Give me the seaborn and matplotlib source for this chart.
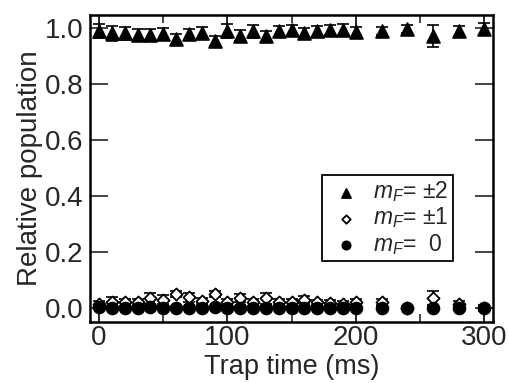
import numpy as np
import pandas as pd
import seaborn as sns
import matplotlib.pyplot as plt
from matplotlib.ticker import MultipleLocator

# trap times (ms)
trap_time = [0, 10, 20, 30, 40, 50, 60, 70, 80, 90, 100, 110, 120, 130, 140,
             150, 160, 170, 180, 190, 200, 220, 240, 260, 280, 300]

# relative populations
pop_m2 = [0.987, 0.979, 0.979, 0.974, 0.974, 0.976, 0.960, 0.976, 0.981, 0.952,
          0.987, 0.971, 0.986, 0.969, 0.986, 0.990, 0.981, 0.986, 0.990, 0.993,
          0.983, 0.987, 0.995, 0.969, 0.987, 0.995]
err_m2 = [0.025, 0.028, 0.022, 0.020, 0.020, 0.022, 0.018, 0.020, 0.022, 0.018,
          0.025, 0.020, 0.022, 0.020, 0.018, 0.020, 0.018, 0.020, 0.018, 0.020,
          0.020, 0.015, 0.015, 0.040, 0.018, 0.020]

pop_m1 = [0.015, 0.020, 0.020, 0.022, 0.035, 0.030, 0.050, 0.038, 0.025, 0.050,
          0.020, 0.035, 0.020, 0.035, 0.022, 0.020, 0.030, 0.020, 0.018, 0.015,
          0.022, 0.022, 0.000, 0.035, 0.015, 0.000]
err_m1 = [0.010, 0.020, 0.012, 0.012, 0.020, 0.015, 0.012, 0.015, 0.012, 0.012,
          0.012, 0.015, 0.012, 0.020, 0.012, 0.012, 0.012, 0.010, 0.010, 0.010,
          0.010, 0.012, 0.005, 0.025, 0.012, 0.005]

pop_m0 = [0.003, 0.002, 0.002, 0.002, 0.003, 0.002, 0.002, 0.002, 0.002, 0.003,
          0.002, 0.002, 0.002, 0.002, 0.002, 0.002, 0.002, 0.002, 0.002, 0.002,
          0.002, 0.002, 0.001, 0.002, 0.002, 0.001]
err_m0 = [0.008, 0.005, 0.005, 0.005, 0.005, 0.005, 0.005, 0.005, 0.005, 0.005,
          0.008, 0.005, 0.005, 0.005, 0.005, 0.005, 0.005, 0.005, 0.005, 0.005,
          0.008, 0.005, 0.005, 0.005, 0.005, 0.010]

labels = [r'$m_F$= $\pm$2', r'$m_F$= $\pm$1', r'$m_F$=  0']

sns.set_style('ticks')
plt.rcParams['font.family'] = ['Liberation Sans', 'DejaVu Sans']
plt.rcParams['mathtext.fontset'] = 'custom'
plt.rcParams['mathtext.it'] = 'Liberation Sans:italic'
plt.rcParams['mathtext.rm'] = 'Liberation Sans'

fig = plt.figure(figsize=(5.09, 3.83), dpi=100)
ax = fig.add_axes([0.177, 0.159, 0.792, 0.802])

series = [
    (labels[1], pop_m1, err_m1, 'D', 'white', 38, 2),
    (labels[0], pop_m2, err_m2, '^', 'black', 85, 3),
    (labels[2], pop_m0, err_m0, 'o', 'black', 72, 4),
]

for lab, pop, err, mk, fc, size, z in series:
    d = pd.DataFrame({'time': trap_time, 'pop': pop, 'err': err})
    ax.errorbar(d['time'], d['pop'], yerr=d['err'], fmt='none', ecolor='black',
                elinewidth=1.2, capsize=4, capthick=1.2, zorder=z)
    sns.scatterplot(data=d, x='time', y='pop', marker=mk, color=fc, s=size,
                    edgecolor='black', linewidth=1.3, ax=ax, zorder=z + 0.5,
                    label=lab)

ax.set_xlim(-7, 307)
ax.set_ylim(-0.05, 1.045)
ax.xaxis.set_major_locator(MultipleLocator(100))
ax.xaxis.set_minor_locator(MultipleLocator(50))
ax.yaxis.set_major_locator(MultipleLocator(0.2))
ax.yaxis.set_major_formatter(plt.FormatStrFormatter('%.1f'))

ax.tick_params(axis='x', which='major', direction='in', length=8, width=1.2,
               top=True, bottom=True, labelsize=20, pad=2, color='black')
ax.tick_params(axis='x', which='minor', direction='in', length=6, width=1.2,
               top=True, bottom=True)
ax.tick_params(axis='y', which='major', direction='in', length=13, width=1.2,
               left=True, right=True, labelsize=20, pad=5)

for sp in ax.spines.values():
    sp.set_visible(True)
    sp.set_linewidth(1.8)
    sp.set_color('black')

ax.set_xlabel('Trap time (ms)', fontsize=19.5, labelpad=2)
ax.set_ylabel('Relative population', fontsize=20, labelpad=1)

# legend in the original order: ±2, ±1, 0
h, l = ax.get_legend_handles_labels()
order = [l.index(lab) for lab in labels]
leg = ax.legend([h[i] for i in order], [l[i] for i in order],
                loc='upper left', bbox_to_anchor=(0.576, 0.479), fontsize=16.5,
                borderaxespad=0, frameon=True, fancybox=False, edgecolor='black',
                handletextpad=0.3, borderpad=0.2, labelspacing=0.05,
                handlelength=1.7, markerscale=0.7, framealpha=1)
leg.get_frame().set_linewidth(1.3)

fig.savefig('out.png', dpi=100)
